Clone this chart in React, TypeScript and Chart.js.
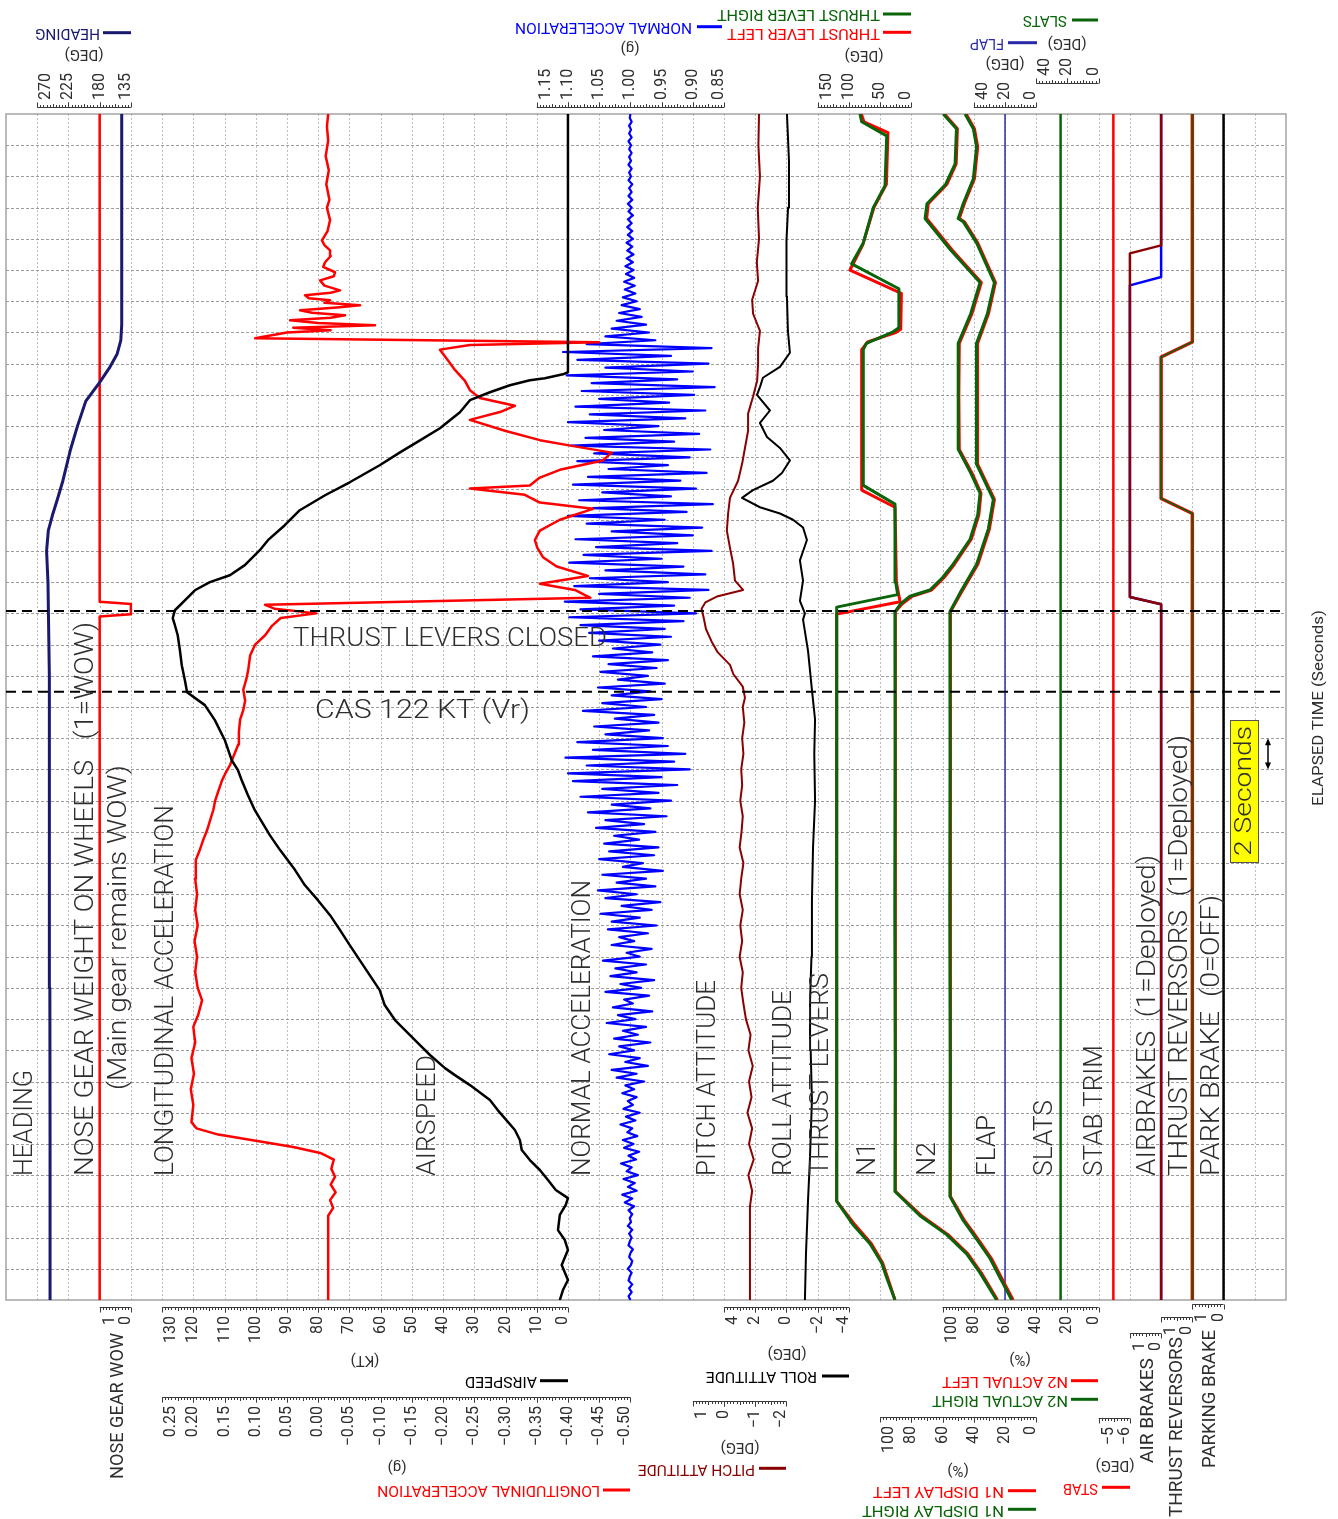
import React, { useEffect, useRef } from 'react';
import { Chart, registerables } from 'chart.js';

Chart.register(...registerables);

type P = [number, number];

// ================= DATA (time in seconds, values in engineering units) =================
const TIME_MIN = 0;
const TIME_MAX = 76;
const TIME_GRID_STEP = 2;

const EVENT_TIMES = [44.15, 38.97];
const EVENT_LABELS = ['THRUST LEVERS CLOSED', 'CAS 122 KT (Vr)'];

const HEADING: P[] = [[0, 251.5], [10, 251.5], [20, 251.8], [30, 252.2], [40, 252.8], [46, 254.5], [48, 256.5], [49.3, 254], [50.3, 248], [51.3, 241], [52.5, 233], [54.5, 222], [56, 212], [57.6, 200], [58.8, 180], [59.8, 165], [60.6, 155], [61.5, 149.5], [62.5, 148.2], [76, 148.2]];

const NOSE_WOW: P[] = [[0, 1], [43.8, 1], [43.95, 0], [44.6, 0], [44.75, 1], [76, 1]];

const LONG_ACCEL: P[] = [[0, -0.016], [5.4, -0.016], [5.9, -0.024], [6.4, -0.019], [6.9, -0.028], [7.4, -0.02], [7.9, -0.027], [8.4, -0.021], [9.0, -0.025], [9.4, -0.005], [9.8, 0.04], [10.2, 0.1], [10.6, 0.16], [11.0, 0.195], [11.4, 0.203], [12.5, 0.2], [13.5, 0.204], [14.5, 0.199], [15.5, 0.203], [16.5, 0.197], [17.5, 0.2], [18.3, 0.192], [19.2, 0.186], [20, 0.193], [21, 0.197], [22, 0.194], [23, 0.198], [24, 0.193], [25, 0.197], [26, 0.194], [27, 0.197], [28.2, 0.196], [28.8, 0.19], [29.5, 0.184], [30.1, 0.178], [30.75, 0.173], [31.4, 0.168], [32.0, 0.165], [32.6, 0.16], [33.3, 0.154], [33.8, 0.148], [34.3, 0.141], [35.0, 0.134], [35.6, 0.128], [36.4, 0.127], [37.2, 0.125], [37.8, 0.12], [38.4, 0.117], [39.1, 0.12], [39.8, 0.115], [40.4, 0.112], [41.3, 0.109], [42.0, 0.101], [42.6, 0.085], [43.2, 0.074], [43.7, 0.06], [44.0, 0.003], [44.3, 0.07], [44.55, 0.085], [45.0, -0.436], [45.5, -0.411], [45.9, -0.355], [46.4, -0.432], [47.0, -0.382], [47.6, -0.36], [48.2, -0.351], [48.7, -0.347], [49.3, -0.355], [50.0, -0.387], [50.7, -0.44], [51.1, -0.355], [51.6, -0.331], [52.0, -0.243], [52.2, -0.339], [52.7, -0.355], [53.2, -0.387], [53.8, -0.456], [54.3, -0.47], [54.7, -0.411], [55.1, -0.355], [55.7, -0.299], [56.4, -0.243], [56.9, -0.291], [57.3, -0.315], [57.8, -0.259], [58.3, -0.243], [58.9, -0.235], [59.6, -0.219], [60.2, -0.208], [60.9, -0.195], [61.2, -0.243], [61.37, -0.45], [61.63, 0.101], [62.0, 0.05], [62.14, -0.02], [62.3, 0.04], [62.46, -0.091], [62.6, 0.0], [62.78, 0.045], [62.95, -0.02], [63.1, -0.043], [63.26, 0.01], [63.42, 0.029], [63.6, -0.03], [63.74, -0.067], [63.9, -0.01], [64.06, -0.019], [64.2, 0.015], [64.38, 0.021], [64.55, -0.02], [64.7, -0.035], [65.0, -0.01], [65.34, -0.003], [65.6, -0.025], [65.86, -0.027], [66.2, -0.008], [66.5, -0.011], [66.9, -0.02], [67.26, -0.019], [67.6, -0.01], [67.9, -0.006], [68.5, -0.015], [69.2, -0.019], [70, -0.014], [70.5, -0.018], [71.5, -0.013], [72.4, -0.017], [73.3, -0.012], [74.3, -0.016], [75.2, -0.014], [76, -0.016]];

const AIRSPEED: P[] = [[0, 2.6], [0.64, 1.6], [1.28, 0], [2.24, 2.0], [3.2, 0], [3.84, 1.0], [4.48, 3.2], [5.45, 2.6], [6.09, 0.7], [6.53, 0], [7.05, 3.9], [7.69, 6.4], [8.33, 9.0], [8.97, 12.2], [9.61, 14.8], [10.25, 15.4], [10.89, 17.0], [12.17, 22.5], [12.81, 25.0], [13.77, 31.4], [14.41, 36.2], [14.86, 39.4], [15.7, 44.2], [16.34, 47.4], [17.3, 52.2], [17.94, 55.4], [18.9, 58.7], [19.86, 60.3], [20.82, 63.5], [21.78, 66.7], [22.74, 69.9], [23.7, 73.0], [24.66, 76.2], [25.62, 80.1], [26.59, 84.3], [27.55, 87.4], [28.83, 92.2], [29.79, 95.5], [30.62, 98.0], [31.39, 100.3], [32.35, 102.5], [33.31, 104.5], [33.95, 105.7], [34.59, 107.7], [35.87, 109.9], [37.16, 113.1], [38.12, 116.3], [38.95, 122.0], [39.72, 122.7], [40.68, 123.7], [41.64, 124.3], [42.6, 125.0], [43.24, 125.9], [43.69, 126.6], [44.2, 125.9], [44.84, 122.7], [45.48, 119.5], [46.0, 114.7], [46.44, 108.3], [47.09, 103.5], [48.05, 98.7], [48.69, 96.1], [49.65, 90.7], [50.61, 85.9], [51.57, 77.8], [52.4, 69.9], [53.49, 60.3], [54.32, 53.8], [55.09, 47.4], [55.86, 41.0], [56.89, 34.6], [57.66, 31.4], [58.17, 25.0], [58.62, 18.6], [58.94, 12.2], [59.07, 7.4], [59.32, 1.6], [59.45, 0], [76, 0]];

// normal acceleration sampled every NACC_DT seconds from NACC_T0
const NACC_T0 = 0;
const NACC_DT = 0.25;
const NORMAL_ACCEL = [
  1.000, 1.003, 0.998, 1.002, 0.997, 1.003, 1.001, 0.998, 1.004, 0.999, 0.997, 1.002, 1.000, 0.996, 1.003, 1.001, 0.998, 1.002, 0.997, 1.004, 0.999, 1.001, 0.997, 1.003,
  0.994, 1.009, 0.997, 1.013, 0.990, 1.004, 0.993, 1.011, 0.988, 1.006, 0.998, 1.015, 0.991, 1.003, 0.986, 1.010, 0.995, 1.012, 0.989, 1.005, 0.997, 1.016, 0.992, 1.007, 0.985, 1.011, 0.996, 1.004, 0.990, 1.013, 0.994, 1.008,
  0.978, 1.022, 0.990, 1.030, 0.972, 1.008, 0.985, 1.034, 0.994, 1.018, 0.968, 1.026, 0.988, 1.012, 0.975, 1.038, 0.992, 1.020, 0.965, 1.028, 0.996, 1.010, 0.970, 1.040, 0.983, 1.016, 0.962, 1.032, 0.990, 1.024, 0.975, 1.044, 0.985, 1.006, 0.966, 1.030, 0.994, 1.018, 0.972, 1.036,
  0.958, 1.030, 0.985, 1.048, 0.966, 1.014, 0.952, 1.040, 0.990, 1.052, 0.960, 1.022, 0.975, 1.045, 0.948, 1.012, 0.980, 1.050, 0.962, 1.034, 0.955, 1.042, 0.986, 1.026,
  0.960, 1.055, 0.978, 1.040, 0.942, 1.068, 0.968, 1.030, 0.935, 1.080, 0.955, 1.045, 0.925, 1.092, 0.950, 1.100, 0.905, 1.070, 0.930, 1.104, 0.912, 1.060, 0.940, 1.085,
  0.948, 1.040, 0.970, 1.058, 0.955, 1.025, 0.962, 1.076, 0.975, 1.045, 0.950, 1.030, 0.968, 1.052, 0.945, 1.020, 0.972, 1.048, 0.958, 1.035, 0.940, 1.060, 0.965, 1.028, 0.952, 1.050, 0.935, 1.066, 0.945, 1.080, 0.915, 1.098,
  0.895, 1.080, 0.930, 1.105, 0.905, 1.050, 0.875, 1.090, 0.940, 1.065, 0.880, 1.040, 0.915, 1.098, 0.950, 1.075, 0.870, 1.055, 0.925, 1.088, 0.900, 1.030, 0.885, 1.070, 0.945, 1.100, 0.910, 1.060, 0.868, 1.082, 0.935, 1.045, 0.895, 1.092, 0.920, 1.068, 0.878, 1.035, 0.940, 1.085, 0.905, 1.058, 0.872, 1.095, 0.930, 1.072, 0.890, 1.042, 0.955, 1.100, 0.912, 1.065, 0.880, 1.088, 0.938, 1.050, 0.898, 1.078, 0.865, 1.062, 0.925, 1.102, 0.900, 1.040, 0.875, 1.085, 0.935, 1.108, 0.870, 1.070,
  0.960, 1.040, 0.970, 1.030, 0.975, 1.022, 0.982, 1.018, 0.985, 1.014,
  0.990, 1.012, 0.992, 1.009, 0.993, 1.010, 0.994, 1.007, 0.995, 1.008, 0.996, 1.006, 0.995, 1.005, 0.997, 1.006, 0.996, 1.004, 0.997, 1.005, 0.998, 1.004, 0.996, 1.003, 0.998, 1.004, 0.997, 1.003, 0.998, 1.002, 0.997, 1.003, 0.999, 1.002, 0.998, 1.003, 0.999, 1.002, 0.998, 1.002, 0.999, 1.003, 0.998, 1.002, 0.999, 1.002, 0.998, 1.001, 1.000,
];

const PITCH: P[] = [[0, -0.83], [6, -0.83], [7, -0.9], [8, -0.78], [9, -0.95], [10, -0.8], [11, -0.9], [12, -0.75], [13, -0.88], [14, -0.8], [15, -0.92], [16, -0.78], [17, -0.85], [18, -0.7], [19, -0.62], [20, -0.55], [21, -0.6], [22, -0.5], [23, -0.58], [24, -0.52], [25, -0.6], [26, -0.5], [27, -0.55], [28, -0.62], [29, -0.5], [30, -0.56], [31, -0.6], [32, -0.52], [33, -0.58], [34, -0.55], [35, -0.62], [36, -0.58], [37, -0.65], [38, -0.6], [38.6, -0.67], [39.3, -0.6], [40.1, -0.3], [40.7, -0.19], [41.5, 0.2], [42.2, 0.4], [43, 0.58], [43.7, 0.65], [44.3, 0.72], [44.7, 0.6], [45.1, 0.2], [45.5, -0.61], [46.1, -0.35], [47.2, -0.29], [48.2, -0.19], [49.3, -0.09], [50.4, -0.13], [51.4, -0.19], [52.5, -0.45], [53.6, -0.58], [54.6, -0.67], [55.7, -0.77], [56.8, -0.77], [57.9, -0.93], [58.9, -1.06], [60, -1.09], [61, -1.09], [62.1, -1.15], [63.2, -0.93], [64.1, -0.9], [65.3, -1.09], [66.5, -1.05], [68, -1.12], [70, -1.08], [72, -1.15], [74, -1.1], [76, -1.12]];

const ROLL: P[] = [[0, -1.18], [3, -1.25], [6.4, -1.38], [9, -1.5], [12.8, -1.63], [16, -1.55], [19.2, -1.51], [22, -1.6], [25.6, -1.63], [29, -1.7], [32, -1.83], [35, -1.78], [37.2, -1.83], [39.1, -1.63], [41.6, -1.38], [43.6, -1.06], [44.0, -1.18], [44.8, -0.86], [46.1, -1.06], [47.4, -0.86], [48.7, -1.31], [49.5, -1.06], [50.0, -0.42], [50.4, 0.42], [50.8, 1.7], [51.4, 2.85], [51.9, 2.15], [52.5, 0.87], [53.0, 0.29], [53.8, -0.22], [54.6, 0.42], [55.3, 1.25], [56.2, 1.7], [57.0, 1.06], [58.0, 1.89], [58.5, 1.7], [59.1, 1.51], [59.8, 0.42], [60.7, -0.22], [62.1, -0.09], [64.3, -0.03], [65.3, -0.03], [67.9, 0.03], [70, -0.1], [73, -0.16], [76, -0.03]];

const THRUST_LEVER_LEFT: P[] = [[0, 26.2], [1.43, 38], [2.37, 46], [3.6, 64], [4.8, 90], [6.34, 119.6], [20, 119.6], [43.95, 119.6], [44.75, 18], [46.0, 24], [50.8, 26.2], [51.9, 79.6], [60.9, 79.6], [61.4, 70], [62.0, 25], [62.2, 17], [64.5, 16], [66.0, 98.3], [67.6, 78], [70.0, 60], [71.5, 40], [74.8, 37.5], [75.5, 76], [76, 80]];
const THRUST_LEVER_RIGHT: P[] = [[0, 26.2], [1.43, 39.5], [2.37, 47.5], [3.6, 66.3], [4.8, 93], [6.34, 119.6], [20, 119.6], [44.4, 119.6], [45.2, 22], [46.0, 25], [51.0, 26.2], [52.2, 77], [60.9, 77], [61.3, 72], [62.0, 31], [62.3, 20], [64.8, 20], [66.4, 95.6], [67.74, 77], [70.0, 61], [71.4, 42.2], [74.6, 39.5], [75.5, 79.6], [76, 82.3]];

const N1_LEFT: P[] = [[0, 24.8], [1.74, 35.2], [2.96, 43.8], [4.19, 56.5], [5.4, 73.5], [6.96, 90.2], [15, 90.1], [25, 90.4], [35, 90.2], [44.1, 90.3], [44.6, 86], [45.1, 79.5], [45.5, 67], [46.3, 59], [47.15, 52.4], [48.75, 41.6], [50.3, 36.8], [51.7, 35.4], [53.0, 41.2], [54.5, 49.3], [58, 49.6], [61.3, 49.3], [63.2, 41.2], [65.2, 35.2], [67.3, 54], [69.3, 70.2], [70.25, 69.2], [71.5, 57.2], [72.8, 51.3], [75.06, 50.5], [76, 58.8]];
const N1_RIGHT: P[] = [[0, 25.4], [1.74, 36.0], [2.96, 44.6], [4.19, 57.4], [5.4, 74.5], [6.96, 90.5], [15, 90.3], [25, 90.6], [35, 90.4], [44.1, 90.5], [44.6, 87], [45.1, 80.9], [45.5, 68.1], [46.3, 60], [47.15, 53.2], [48.75, 42.4], [50.3, 37.5], [51.7, 36.0], [53.0, 42], [54.5, 49.9], [58, 50.1], [61.3, 49.9], [63.2, 42], [65.2, 36.0], [67.3, 55], [69.3, 71.2], [70.25, 70], [71.5, 58], [72.8, 52], [75.06, 51.1], [76, 59.6]];

const N2_LEFT: P[] = [[0, 54.8], [1.43, 62.3], [2.66, 68.7], [3.9, 77.3], [5.1, 86], [6.64, 95.0], [15, 94.9], [25, 95.1], [35, 94.9], [44.1, 95.0], [45.3, 88.2], [47.15, 77.4], [49.4, 70], [51.3, 66.8], [53.55, 77.5], [58, 77.7], [61.3, 77.5], [63.2, 70.6], [65.2, 66.1], [67.74, 77.5], [69.1, 86.1], [69.3, 89.3], [70.25, 86.1], [71.85, 79.6], [73.9, 77.5], [75.06, 79.6], [76, 84.9]];
const N2_RIGHT: P[] = [[0, 55.7], [1.43, 63.2], [2.66, 69.6], [3.9, 78.2], [5.1, 86.8], [6.64, 95.3], [15, 95.1], [25, 95.4], [35, 95.2], [44.1, 95.3], [45.3, 88.9], [47.15, 78.2], [49.4, 70.7], [51.3, 67.5], [53.55, 78.2], [58, 78.4], [61.3, 78.2], [63.2, 71.3], [65.2, 66.8], [67.74, 78.2], [69.1, 86.8], [69.3, 90], [70.25, 86.8], [71.85, 80.3], [73.9, 78.2], [75.06, 80.3], [76, 85.6]];

const FLAP: P[] = [[0, 20], [76, 20]];
const SLATS: P[] = [[0, 24.4], [76, 24.4]];
const STAB_TRIM: P[] = [[0, -5.47], [76, -5.47]];
const AIRBRAKES: P[] = [[0, 0], [44.59, 0], [45.05, 1], [67.07, 1], [67.58, 0], [76, 0]];
const AIRBRAKES_2: P[] = [[0, 0], [44.59, 0], [45.05, 1], [65.02, 1], [65.56, 0], [76, 0]];
const THRUST_REV_LEFT: P[] = [[0, 0], [50.4, 0], [51.36, 1], [60.43, 1], [61.39, 0], [76, 0]];
const THRUST_REV_RIGHT: P[] = [[0, 0], [50.4, 0], [51.36, 1], [60.43, 1], [61.39, 0], [76, 0]];
const PARK_BRAKE: P[] = [[0, 0], [76, 0]];

// tick labels of the parameter scales
const TICKS_HDG = [270, 225, 180, 135];
const TICKS_NACC = [1.15, 1.10, 1.05, 1.00, 0.95, 0.90, 0.85];
const TICKS_TL = [150, 100, 50, 0];
const TICKS_FLAP = [40, 20, 0];
const TICKS_SLATS = [40, 20, 0];
const TICKS_WOW = [1, 0];
const TICKS_ASPD = [130, 120, 110, 100, 90, 80, 70, 60, 50, 40, 30, 20, 10, 0];
const TICKS_ROLL = [4, 2, 0, -2, -4];
const TICKS_N2 = [100, 80, 60, 40, 20, 0];
const TICKS_AB = [1, 0];
const TICKS_TR = [1, 0];
const TICKS_PB = [1, 0];
const TICKS_LACC = [0.25, 0.20, 0.15, 0.10, 0.05, 0.00, -0.05, -0.10, -0.15, -0.20, -0.25, -0.30, -0.35, -0.40, -0.45, -0.50];
const TICKS_PITCH = [1, 0, -1, -2];
const TICKS_N1 = [100, 80, 60, 40, 20, 0];
const TICKS_STAB = [-5, -6];

// ================= LAYOUT / STYLE =================
const W = 1338;
const H = 1519;
const CELLS = 41; // value-direction grid cells across the plot
const FONT = '"Roboto", "Liberation Sans", "DejaVu Sans", sans-serif';
const TXT = '#2e2e2e';
const UP = -Math.PI / 2;
const INV = Math.PI;

const COL = {
  red: '#ff0000', green: '#0a640a', navy: '#191970', blue: '#0000ff',
  dred: '#8b0000', black: '#000000', flap: '#2a2aa8',
};

// [scale id, value at cell A, cell A, value at cell B, cell B]
const AXES: [string, number, number, number, number][] = [
  ['hdg', 270, 1, 135, 4],
  ['wow', 1, 3, 0, 4],
  ['lacc', 0.25, 5, -0.5, 20],
  ['aspd', 130, 5, 0, 18],
  ['nacc', 1.15, 17, 0.85, 23],
  ['pitch', 1, 22, -2, 25],
  ['roll', 4, 23, -4, 27],
  ['tl', 150, 26, 0, 29],
  ['n1', 100, 28, 0, 33],
  ['n2', 100, 30, 0, 35],
  ['flap', 40, 31, 0, 33],
  ['slats', 40, 33, 0, 35],
  ['stab', -5, 35, -6, 36],
  ['ab', 1, 36, 0, 37],
  ['tr', 1, 37, 0, 38],
  ['pb', 1, 38, 0, 39],
];

const BARS = [
  { id: 'hdg', ticks: TICKS_HDG, y: 107, top: true, dec: 0 },
  { id: 'nacc', ticks: TICKS_NACC, y: 107, top: true, dec: 2 },
  { id: 'tl', ticks: TICKS_TL, y: 107, top: true, dec: 0 },
  { id: 'flap', ticks: TICKS_FLAP, y: 107, top: true, dec: 0 },
  { id: 'slats', ticks: TICKS_SLATS, y: 83, top: true, dec: 0 },
  { id: 'wow', ticks: TICKS_WOW, y: 1307, top: false, dec: 0 },
  { id: 'aspd', ticks: TICKS_ASPD, y: 1307, top: false, dec: 0 },
  { id: 'roll', ticks: TICKS_ROLL, y: 1307, top: false, dec: 0 },
  { id: 'n2', ticks: TICKS_N2, y: 1307, top: false, dec: 0 },
  { id: 'ab', ticks: TICKS_AB, y: 1333, top: false, dec: 0 },
  { id: 'tr', ticks: TICKS_TR, y: 1317, top: false, dec: 0 },
  { id: 'pb', ticks: TICKS_PB, y: 1304, top: false, dec: 0 },
  { id: 'lacc', ticks: TICKS_LACC, y: 1397, top: false, dec: 2 },
  { id: 'pitch', ticks: TICKS_PITCH, y: 1401, top: false, dec: 0 },
  { id: 'n1', ticks: TICKS_N1, y: 1417, top: false, dec: 0 },
  { id: 'stab', ticks: TICKS_STAB, y: 1418, top: false, dec: 0 },
];

const BAR_TITLES = [
  { text: 'NOSE GEAR WOW', x: 118, y: 1333, len: 146 },
  { text: 'AIR BRAKES', x: 1148, y: 1358, len: 105 },
  { text: 'THRUST REVERSORS', x: 1177, y: 1337, len: 180 },
  { text: 'PARKING BRAKE', x: 1210, y: 1330, len: 138 },
];

const LEGENDS = [
  { text: 'HEADING', color: COL.navy, x1: 103, x2: 131, y: 32.7, tx: 100, tEnd: 35 },
  { text: 'NORMAL ACCELERATION', color: COL.blue, x1: 697, x2: 722, y: 26.7, tx: 692, tEnd: 515 },
  { text: 'THRUST LEVER LEFT', color: COL.red, x1: 883, x2: 911, y: 32.3, tx: 880, tEnd: 727 },
  { text: 'THRUST LEVER RIGHT', color: COL.green, x1: 883, x2: 911, y: 14, tx: 880, tEnd: 717 },
  { text: 'FLAP', color: COL.flap, x1: 1008, x2: 1037, y: 42.7, tx: 1004, tEnd: 970 },
  { text: 'SLATS', color: COL.green, x1: 1072, x2: 1098, y: 20, tx: 1067, tEnd: 1023 },
  { text: 'AIRSPEED', color: COL.black, x1: 540, x2: 568, y: 1380.7, tx: 537, tEnd: 465 },
  { text: 'ROLL ATTITUDE', color: COL.black, x1: 822, x2: 849, y: 1376, tx: 817, tEnd: 706 },
  { text: 'N2 ACTUAL LEFT', color: COL.red, x1: 1071, x2: 1098, y: 1380.7, tx: 1068, tEnd: 942 },
  { text: 'N2 ACTUAL RIGHT', color: COL.green, x1: 1071, x2: 1098, y: 1399.3, tx: 1068, tEnd: 932 },
  { text: 'LONGITUDINAL ACCELERATION', color: COL.red, x1: 603, x2: 630, y: 1490, tx: 600, tEnd: 377 },
  { text: 'PITCH ATTITUDE', color: COL.dred, x1: 759, x2: 786, y: 1468.3, tx: 755, tEnd: 638 },
  { text: 'N1 DISPLAY LEFT', color: COL.red, x1: 1008, x2: 1036, y: 1490.7, tx: 1004, tEnd: 873 },
  { text: 'N1 DISPLAY RIGHT', color: COL.green, x1: 1008, x2: 1036, y: 1509.3, tx: 1004, tEnd: 862 },
  { text: 'STAB', color: COL.red, x1: 1102, x2: 1130, y: 1487.3, tx: 1098, tEnd: 1063 },
];

const UNITS = [
  { text: '(DEG)', x: 84, y: 54 }, { text: '(g)', x: 630, y: 48 }, { text: '(DEG)', x: 864, y: 55 },
  { text: '(DEG)', x: 1005, y: 62.7 }, { text: '(DEG)', x: 1067, y: 42.7 }, { text: '(KT)', x: 365, y: 1360 },
  { text: '(g)', x: 397, y: 1467 }, { text: '(DEG)', x: 740, y: 1447 }, { text: '(DEG)', x: 787, y: 1353 },
  { text: '(%)', x: 1020, y: 1359 }, { text: '(%)', x: 958, y: 1470 }, { text: '(DEG)', x: 1115, y: 1465 },
];

const TRACE_LABELS: [string, number, number, number][] = [
  ['HEADING', 25, 1176, 1070],
  ['NOSE GEAR WEIGHT ON WHEELS   (1=WOW)', 86, 1176, 622],
  ['(Main gear remains WOW)', 119, 1090, 765],
  ['LONGITUDINAL ACCELERATION', 166, 1176, 805],
  ['AIRSPEED', 428, 1176, 1055],
  ['NORMAL ACCELERATION', 583, 1176, 880],
  ['PITCH ATTITUDE', 708, 1176, 980],
  ['ROLL ATTITUDE', 784, 1176, 990],
  ['THRUST LEVERS', 821, 1176, 973],
  ['N1', 868, 1176, 1142],
  ['N2', 928, 1176, 1142],
  ['FLAP', 988, 1176, 1115],
  ['SLATS', 1045, 1176, 1100],
  ['STAB TRIM', 1095, 1176, 1045],
  ['AIRBRAKES  (1=Deployed)', 1148, 1176, 855],
  ['THRUST REVERSORS  (1=Deployed)', 1180, 1176, 735],
  ['PARK BRAKE  (0=OFF)', 1212, 1176, 895],
];

const EVENT_LABEL_POS = [
  { x: 293, dy: 28, len: 314 },
  { x: 315, dy: 20, len: 215 },
];

// ================= HELPERS =================
function axisRange(v1: number, k1: number, v2: number, k2: number) {
  const s = (v2 - v1) / (k2 - k1);
  const a = v1 + (0 - k1) * s;
  const b = v1 + (CELLS - k1) * s;
  return { min: Math.min(a, b), max: Math.max(a, b), reverse: a > b };
}

function drawText(ctx: CanvasRenderingContext2D, s: string, x: number, y: number, o: any = {}) {
  const { rot = 0, size = 15, color = TXT, align = 'left', len = 0, weight = 400 } = o;
  ctx.save();
  ctx.translate(x, y);
  if (rot) ctx.rotate(rot);
  ctx.font = `${weight} ${size}px ${FONT}`;
  ctx.fillStyle = color;
  ctx.textAlign = align;
  ctx.textBaseline = 'middle';
  if (len > 0) {
    const w = ctx.measureText(s).width;
    if (w > 0) ctx.scale(len / w, 1);
  }
  ctx.fillText(s, 0, 0);
  ctx.restore();
}

function fmt(v: number, dec: number) {
  const a = Math.abs(v).toFixed(dec);
  return (v < 0 && Number(a) !== 0 ? '\u2212' : '') + a;
}

function line(ctx: CanvasRenderingContext2D, x1: number, y1: number, x2: number, y2: number) {
  ctx.beginPath();
  ctx.moveTo(x1, y1);
  ctx.lineTo(x2, y2);
  ctx.stroke();
}

const decor = {
  id: 'fdrDecor',
  beforeDatasetsDraw(chart: any) {
    const { ctx, chartArea: a } = chart;
    const gx = chart.scales.grid;
    const ty = chart.scales.t;
    ctx.save();
    ctx.lineWidth = 1;
    ctx.strokeStyle = '#bdbdbd';
    ctx.setLineDash([2, 2]);
    for (let k = 1; k < CELLS; k++) {
      const x = Math.round(gx.getPixelForValue(k)) + 0.5;
      line(ctx, x, a.top, x, a.bottom);
    }
    ctx.strokeStyle = '#9c9c9c';
    ctx.setLineDash([3, 2]);
    for (let t = TIME_MIN + TIME_GRID_STEP; t < TIME_MAX - 0.01; t += TIME_GRID_STEP) {
      const y = Math.round(ty.getPixelForValue(t)) + 0.5;
      line(ctx, a.left, y, a.right, y);
    }
    ctx.setLineDash([]);
    ctx.strokeStyle = '#a4a4a4';
    ctx.lineWidth = 1.5;
    ctx.strokeRect(a.left, a.top, a.right - a.left, a.bottom - a.top);
    ctx.restore();
  },
  afterDraw(chart: any) {
    const { ctx } = chart;
    const ty = chart.scales.t;
    ctx.save();

    // parameter scales
    for (const b of BARS) {
      const sc = chart.scales[b.id];
      const px = b.ticks.map((v: number) => sc.getPixelForValue(v));
      const x0 = Math.min(...px);
      const x1 = Math.max(...px);
      const dir = b.top ? -1 : 1;
      const y = Math.round(b.y) + 0.5;
      ctx.strokeStyle = '#3a3a3a';
      ctx.lineWidth = 1;
      line(ctx, x0, y, x1, y);
      for (let i = 0; i < b.ticks.length - 1; i++) {
        for (let m = 0; m <= 10; m++) {
          const v = b.ticks[i] + ((b.ticks[i + 1] - b.ticks[i]) * m) / 10;
          const x = Math.round(sc.getPixelForValue(v)) + 0.5;
          const l = m === 0 || m === 10 ? 5 : m === 5 ? 3.5 : 2.5;
          line(ctx, x, y, x, y + dir * l);
        }
      }
      b.ticks.forEach((v: number, i: number) => {
        let x = px[i];
        if (i === 0) x += b.ticks.length === 2 ? 10 : 9;
        else if (i === b.ticks.length - 1) x -= 5;
        drawText(ctx, fmt(v, b.dec), x, b.y + (b.top ? -7 : 9), {
          rot: UP, size: 16, align: b.top ? 'left' : 'right',
        });
      });
    }

    for (const t of BAR_TITLES) {
      drawText(ctx, t.text, t.x, t.y, { rot: UP, size: 19, align: 'right', len: t.len });
    }

    // legends
    for (const l of LEGENDS) {
      ctx.strokeStyle = l.color;
      ctx.lineWidth = 3;
      line(ctx, l.x1, l.y, l.x2, l.y);
      drawText(ctx, l.text, l.tx, l.y, { rot: INV, size: 15, color: l.color, align: 'left', len: l.tx - l.tEnd });
    }
    for (const u of UNITS) {
      drawText(ctx, u.text, u.x, u.y, { rot: INV, size: 15, align: 'center' });
    }

    // trace labels
    for (const [s, x, y0, y1] of TRACE_LABELS) {
      drawText(ctx, s, x, y0, { rot: UP, size: 26, align: 'left', len: y0 - y1, weight: 300 });
    }

    // event annotations
    EVENT_TIMES.forEach((t, i) => {
      const p = EVENT_LABEL_POS[i];
      drawText(ctx, EVENT_LABELS[i], p.x, ty.getPixelForValue(t) + p.dy, { size: 26, len: p.len, weight: 300 });
    });

    // 2 seconds box
    ctx.fillStyle = '#ffff00';
    ctx.fillRect(1230, 720, 28, 142);
    ctx.strokeStyle = '#555';
    ctx.lineWidth = 1;
    ctx.strokeRect(1230.5, 720.5, 28, 142);
    drawText(ctx, '2 Seconds', 1245, 791, { rot: UP, size: 24, align: 'center', len: 130, weight: 300 });

    // 2-second arrow, spanning one time grid cell
    const ya = ty.getPixelForValue(34);
    const yb = ty.getPixelForValue(34 + TIME_GRID_STEP);
    const ax = 1268;
    ctx.strokeStyle = '#000';
    ctx.fillStyle = '#000';
    ctx.lineWidth = 1.5;
    line(ctx, ax, yb + 3, ax, ya - 3);
    ctx.beginPath(); ctx.moveTo(ax, yb); ctx.lineTo(ax - 3, yb + 7); ctx.lineTo(ax + 3, yb + 7); ctx.closePath(); ctx.fill();
    ctx.beginPath(); ctx.moveTo(ax, ya); ctx.lineTo(ax - 3, ya - 7); ctx.lineTo(ax + 3, ya - 7); ctx.closePath(); ctx.fill();

    drawText(ctx, 'ELAPSED TIME (Seconds)', 1319, 708, { rot: UP, size: 15, align: 'center', len: 196 });

    ctx.restore();
  },
};

function pts(arr: P[]) {
  return arr.map(([t, v]) => ({ x: v, y: t }));
}

function ds(label: string, data: any[], axis: string, color: string, width: number, order: number, dash: number[] = []) {
  return {
    label,
    data,
    xAxisID: axis,
    yAxisID: 't',
    showLine: true,
    borderColor: color,
    backgroundColor: color,
    borderWidth: width,
    borderDash: dash,
    borderJoinStyle: 'round',
    borderCapStyle: 'butt',
    pointRadius: 0,
    pointHoverRadius: 0,
    fill: false,
    tension: 0,
    order,
  };
}

export default function App() {
  const ref = useRef<HTMLCanvasElement | null>(null);

  useEffect(() => {
    const canvas = ref.current;
    if (!canvas) return;

    const scales: any = {
      t: { type: 'linear', axis: 'y', position: 'left', min: TIME_MIN, max: TIME_MAX, display: false, bounds: 'data' },
      grid: { type: 'linear', axis: 'x', position: 'bottom', min: 0, max: CELLS, display: false, bounds: 'data' },
    };
    for (const [id, v1, k1, v2, k2] of AXES) {
      const r = axisRange(v1, k1, v2, k2);
      scales[id] = { type: 'linear', axis: 'x', position: 'bottom', min: r.min, max: r.max, reverse: r.reverse, display: false, bounds: 'data' };
    }

    const naccPts = NORMAL_ACCEL.map((v, i) => ({ x: v, y: NACC_T0 + i * NACC_DT }));

    const datasets: any[] = [
      ...EVENT_TIMES.map((t, i) => ds(EVENT_LABELS[i], [{ x: 0, y: t }, { x: CELLS, y: t }], 'grid', '#000', 2, 0, [10, 6])),
      ds('Heading', pts(HEADING), 'hdg', COL.navy, 3, 5),
      ds('Nose gear WOW', pts(NOSE_WOW), 'wow', COL.red, 2.5, 6),
      ds('Longitudinal acceleration', pts(LONG_ACCEL), 'lacc', COL.red, 2.5, 6),
      ds('Airspeed', pts(AIRSPEED), 'aspd', COL.black, 2.5, 4),
      ds('Normal acceleration', naccPts, 'nacc', COL.blue, 2.2, 7),
      ds('Pitch attitude', pts(PITCH), 'pitch', COL.dred, 2, 5),
      ds('Roll attitude', pts(ROLL), 'roll', COL.black, 2, 4),
      ds('Thrust lever right', pts(THRUST_LEVER_RIGHT), 'tl', COL.green, 3, 2),
      ds('Thrust lever left', pts(THRUST_LEVER_LEFT), 'tl', COL.red, 3, 3),
      ds('N1 display right', pts(N1_RIGHT), 'n1', COL.green, 3, 2),
      ds('N1 display left', pts(N1_LEFT), 'n1', COL.red, 3, 3),
      ds('N2 actual right', pts(N2_RIGHT), 'n2', COL.green, 3, 2),
      ds('N2 actual left', pts(N2_LEFT), 'n2', COL.red, 3, 3),
      ds('Flap', pts(FLAP), 'flap', COL.flap, 1.5, 4),
      ds('Slats', pts(SLATS), 'slats', COL.green, 2.5, 4),
      ds('Stab', pts(STAB_TRIM), 'stab', COL.red, 2.5, 4),
      ds('Airbrakes', pts(AIRBRAKES), 'ab', COL.dred, 2.5, 2),
      ds('Airbrakes 2', pts(AIRBRAKES_2), 'ab', COL.blue, 2.5, 3),
      ds('Thrust reversers right', pts(THRUST_REV_RIGHT), 'tr', COL.green, 1.8, 2),
      ds('Thrust reversers left', pts(THRUST_REV_LEFT), 'tr', COL.red, 3.5, 3),
      ds('Parking brake', pts(PARK_BRAKE), 'pb', COL.black, 2.5, 4),
    ];

    const chart = new Chart(canvas, {
      type: 'scatter',
      data: { datasets },
      options: {
        responsive: false,
        animation: false,
        devicePixelRatio: 1,
        events: [],
        layout: { padding: { left: 6, top: 114, right: 52, bottom: 219 } },
        plugins: { legend: { display: false }, tooltip: { enabled: false }, title: { display: false } },
        scales,
      } as any,
      plugins: [decor as any],
    });

    return () => chart.destroy();
  }, []);

  return (
    <div style={{ position: 'absolute', left: 0, top: 0, width: W, height: H, background: '#fff' }}>
      <canvas ref={ref} width={W} height={H} style={{ width: W, height: H, display: 'block' }} />
    </div>
  );
}
